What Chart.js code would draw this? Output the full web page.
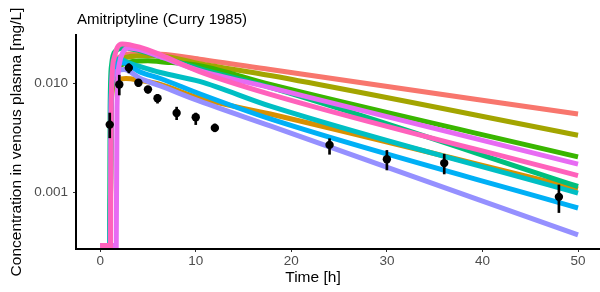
<!DOCTYPE html>
<html><head><meta charset="utf-8">
<script src="https://cdn.jsdelivr.net/npm/chart.js@4"></script>
<style>
html,body{margin:0;padding:0;background:#fff;overflow:hidden}
#wrap{position:relative;width:600px;height:292px}
#title{position:absolute;left:77px;top:10px;font:15px "Liberation Sans",Arial,sans-serif;color:#000;white-space:nowrap}
#xtitle{position:absolute;left:253px;width:120px;text-align:center;top:268px;font:15.5px "Liberation Sans",Arial,sans-serif;color:#000;white-space:nowrap}
</style></head><body>
<div id="wrap"><canvas id="c" width="600" height="292"></canvas><div id="title">Amitriptyline (Curry 1985)</div><div id="xtitle">Time [h]</div></div>
<script>
const MIN_C = 0.000323;
const MAX_C = 0.02788;

// simulated profiles (time [h], concentration [mg/L]) — factor order as in the original
const redT = [0, 1.05, 1.12, 1.3, 1.8, 3.5, 6.3, 10.4, 17.8, 50];
const redC = [MIN_C, MIN_C, 0.005, 0.013, 0.017, 0.0187, 0.01854, 0.0167, 0.01341, 0.00523];
const orangeT = [0, 1.05, 1.12, 1.3, 1.8, 2.7, 4.2, 6.3, 10.4, 17.8, 50];
const orangeC = [MIN_C, MIN_C, 0.004, 0.009, 0.0107, 0.0111, 0.01065, 0.00979, 0.00731, 0.00523, 0.001072];
const oliveT = [0, 1.05, 1.12, 1.3, 2.0, 4.5, 6.3, 10.4, 17.8, 50];
const oliveC = [MIN_C, MIN_C, 0.005, 0.012, 0.0165, 0.0180, 0.0179, 0.0152, 0.01182, 0.00334];
const greenT = [0, 1.05, 1.12, 1.3, 2.0, 5.0, 6.3, 10.4, 17.8, 50];
const greenC = [MIN_C, MIN_C, 0.004, 0.010, 0.0145, 0.0162, 0.01585, 0.01458, 0.00979, 0.00211];
const tealT = [0, 0.98, 1.04, 1.2, 1.6, 2.5, 4.2, 6.3, 10.4, 17.8, 50];
const tealC = [MIN_C, MIN_C, 0.006, 0.015, 0.0198, 0.0212, 0.01995, 0.0176, 0.01369, 0.0092, 0.001127];
const cyanT = [0, 1.05, 1.12, 1.3, 1.6, 2.0, 3.0, 4.2, 6.3, 10.4, 17.8, 50];
const cyanC = [MIN_C, MIN_C, 0.006, 0.013, 0.0160, 0.0168, 0.0155, 0.01427, 0.01259, 0.01043, 0.00618, 0.000979];
const blueT = [0, 1.05, 1.12, 1.3, 1.7, 2.3, 4.2, 6.3, 10.4, 17.8, 50];
const blueC = [MIN_C, MIN_C, 0.005, 0.012, 0.0148, 0.0155, 0.0127, 0.0111, 0.00803, 0.00471, 0.000715];
const purpleT = [0, 1.05, 1.12, 1.3, 1.8, 2.5, 4.2, 6.3, 10.4, 17.8, 50];
const purpleC = [MIN_C, MIN_C, 0.0045, 0.011, 0.0130, 0.0134, 0.0111, 0.00949, 0.00686, 0.00406, 0.000404];
const magentaT = [0, 1.68, 1.76, 2.0, 2.4, 3.0, 4.2, 6.3, 10.4, 17.8, 50];
const magentaC = [MIN_C, MIN_C, 0.006, 0.015, 0.0195, 0.0212, 0.02037, 0.0176, 0.01313, 0.00914, 0.001809];
const pinkT = [0, 1.08, 1.16, 1.45, 1.8, 2.3, 4.2, 6.3, 10.4, 17.8, 50];
const pinkC = [MIN_C, MIN_C, 0.007, 0.017, 0.0215, 0.0231, 0.02147, 0.01835, 0.01285, 0.00794, 0.001418];

const seriesT = [redT, orangeT, oliveT, greenT, tealT, cyanT, blueT, purpleT, magentaT, pinkT];
const seriesC = [redC, orangeC, oliveC, greenC, tealC, cyanC, blueC, purpleC, magentaC, pinkC];
const seriesColors = ["#F8766D","#D89000","#A3A500","#39B600","#00BF7D","#00BFC4","#00B0F6","#9590FF","#E76BF3","#FF62BC"];

// observed data
const obsT = [1, 2, 3, 4, 5, 6, 8, 10, 12, 24, 30, 36, 48];
const obsC = [0.00418, 0.00979, 0.0139, 0.01015, 0.00882, 0.00731, 0.00534, 0.00488, 0.0039, 0.00272, 0.00201, 0.00185, 0.000905];
const obsLo = [0.00316, 0.00783, 0.0125, 0.0094, 0.00811, 0.00658, 0.00464, 0.00418, 0.00359, 0.00223, 0.0016, 0.00147, 0.000649];
const obsHi = [0.00534, 0.0119, 0.0152, 0.01087, 0.0094, 0.00794, 0.00605, 0.00534, 0.00424, 0.0031, 0.00242, 0.00223, 0.001165];

const xTicks = [0, 10, 20, 30, 40, 50];
const yTickValues = [0.001, 0.01];
const yTickLabels = ["0.001", "0.010"];

Chart.defaults.font.family = '"Liberation Sans", Arial, sans-serif';

const datasets = [];
datasets.push({
  type: 'scatter', data: obsT.map((t, i) => ({x: t, y: obsC[i]})),
  pointRadius: 4.2, pointBackgroundColor: '#000', pointBorderWidth: 0, order: 0, clip: 0
});
datasets.push({
  type: 'bar', data: obsT.map((t, i) => ({x: t, y: [obsLo[i], obsHi[i]]})),
  backgroundColor: '#000', barThickness: 2, grouped: false, borderWidth: 0, order: 1
});
seriesT.forEach((T, k) => {
  datasets.push({
    type: 'line', data: T.map((t, i) => ({x: t, y: seriesC[k][i]})),
    borderColor: seriesColors[k], borderWidth: 5, pointRadius: 0, fill: false,
    cubicInterpolationMode: 'monotone', borderCapStyle: 'butt', clip: 0,
    order: 11 - k
  });
});

new Chart(document.getElementById('c'), {
  type: 'scatter',
  data: { datasets },
  options: {
    responsive: false, animation: false, devicePixelRatio: 1,
    layout: { autoPadding: false, padding: { top: 35, right: 0, bottom: 0, left: 0 } },
    plugins: { legend: { display: false }, tooltip: { enabled: false } },
    scales: {
      x: {
        type: 'linear', min: -2.53, max: 52.3, offset: false,
        afterBuildTicks: s => { s.ticks = xTicks.map(v => ({value: v})); },
        afterFit: s => { s.height = 43; s.paddingLeft = 0; s.paddingRight = 0; },
        grid: { display: true, drawOnChartArea: false, drawTicks: true, tickLength: 3, color: '#333', offset: false },
        border: { display: true, color: '#000', width: 2 },
        ticks: { color: '#4D4D4D', font: { size: 13.5 }, padding: 1, maxRotation: 0 },
        title: { display: false }
      },
      y: {
        type: 'logarithmic', min: MIN_C, max: MAX_C,
        afterBuildTicks: s => { s.ticks = yTickValues.map(v => ({value: v})); },
        afterFit: s => { s.width = 76; s.paddingTop = 0; s.paddingBottom = 0; },
        grid: { display: true, drawOnChartArea: false, drawTicks: true, tickLength: 3, color: '#333' },
        border: { display: true, color: '#000', width: 2 },
        ticks: { color: '#4D4D4D', font: { size: 13.5 }, padding: 5,
          callback: (v) => { const i = yTickValues.indexOf(v); return i >= 0 ? yTickLabels[i] : ''; } },
        title: { display: true, text: 'Concentration in venous plasma [mg/L]', color: '#000', font: { size: 15.5 }, padding: { top: 7, bottom: 0 } }
      }
    }
  }
});
</script>
</body></html>
